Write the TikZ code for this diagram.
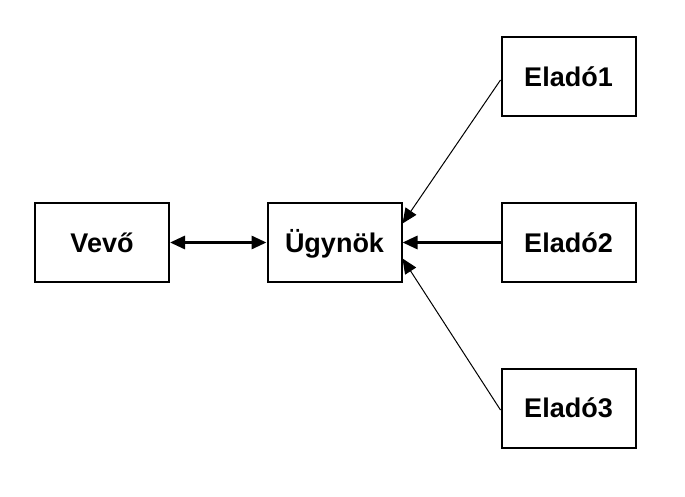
\documentclass[tikz,border=0pt]{standalone}
\usepackage{fontspec}
\setmainfont{Liberation Sans}
\usetikzlibrary{arrows.meta}
\begin{document}
\begin{tikzpicture}[x=1pt,y=-1pt,
  box/.style={draw=black,line width=2pt,minimum width=134pt,minimum height=79pt,inner sep=0pt,text height=19.3pt,text depth=0pt,font=\fontsize{27}{30}\selectfont\bfseries},
  thick conn/.style={line width=3pt,-{Triangle[length=15pt,width=13pt]}},
  thin conn/.style={line width=1pt,-{Triangle[length=15pt,width=13pt]}}]
\useasboundingbox (0,0) rectangle (685,497);
\node[box] (vevo) at (102,242.5) {Vevő};
\node[box] (ugy) at (334.5,242.5) {Ügynök};
\node[box] (e1) at (568.5,77) {Eladó1};
\node[box] (e2) at (568.5,242.5) {Eladó2};
\node[box] (e3) at (568.5,408) {Eladó3};
\draw[line width=3pt,{Triangle[length=15pt,width=13pt]}-{Triangle[length=15pt,width=13pt]}] (vevo.east) -- (ugy.west);
\draw[thick conn] (e2.west) -- (ugy.east);
\coordinate (u1) at ([yshift=19pt]ugy.east);
\coordinate (u3) at ([yshift=-16pt]ugy.east);
\coordinate (s1) at ([yshift=-3pt]e1.west);
\coordinate (s3) at ([yshift=-2pt]e3.west);
\draw[thin conn] (s1) -- (u1);
\draw[thin conn] (s3) -- (u3);
\end{tikzpicture}
\end{document}
